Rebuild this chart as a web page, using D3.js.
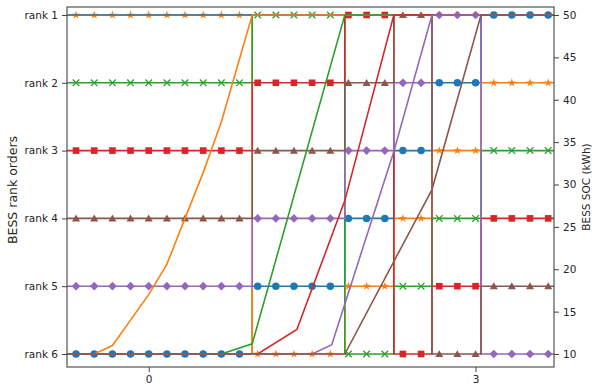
<!DOCTYPE html>
<html>
<head>
<meta charset="utf-8">
<script src="https://cdn.jsdelivr.net/npm/d3@7"></script>
<style>
body { margin: 0; background: #fff; }
text { font-family: "DejaVu Sans", sans-serif; fill: #262626; }
</style>
</head>
<body>
<svg id="viz"></svg>
<script>
// time steps where markers sit (every 1/6 unit)
var stepTimes = [-0.667, -0.5, -0.333, -0.167, 0, 0.167, 0.333, 0.5, 0.667, 0.833,
    1.0, 1.167, 1.333, 1.5, 1.667, 1.833, 2.0, 2.167, 2.333, 2.5,
    2.667, 2.833, 3.0, 3.167, 3.333, 3.5, 3.667];
// times when the rank order switches
var switchTimes = [0.95, 1.80, 2.25, 2.60, 3.05];
var xStart = -0.75, xEnd = 3.72;

var names = ['BESS 1', 'BESS 2', 'BESS 3', 'BESS 4', 'BESS 5', 'BESS 6'];
var colors = ['#1f77b4', '#ff7f0e', '#2ca02c', '#d62728', '#9467bd', '#8c564b'];
var markers = ['circle', 'star', 'x', 'square', 'diamond', 'triangle'];

// rank of each BESS at each step time
var rankBlue   = [6,6,6,6,6,6,6,6,6,6, 5,5,5,5,5, 4,4,4, 3,3, 2,2,2, 1,1,1,1];
var rankOrange = [1,1,1,1,1,1,1,1,1,1, 6,6,6,6,6, 5,5,5, 4,4, 3,3,3, 2,2,2,2];
var rankGreen  = [2,2,2,2,2,2,2,2,2,2, 1,1,1,1,1, 6,6,6, 5,5, 4,4,4, 3,3,3,3];
var rankRed    = [3,3,3,3,3,3,3,3,3,3, 2,2,2,2,2, 1,1,1, 6,6, 5,5,5, 4,4,4,4];
var rankPurple = [5,5,5,5,5,5,5,5,5,5, 4,4,4,4,4, 3,3,3, 2,2, 1,1,1, 6,6,6,6];
var rankBrown  = [4,4,4,4,4,4,4,4,4,4, 3,3,3,3,3, 2,2,2, 1,1, 6,6,6, 5,5,5,5];
var ranks = [rankBlue, rankOrange, rankGreen, rankRed, rankPurple, rankBrown];

// state of charge [time, kWh]
var socBlue   = [[-0.75,50],[3.72,50]];
var socOrange = [[-0.75,10],[-0.5,10],[-0.333,11],[-0.167,14],[0,17],[0.167,20.6],[0.333,26],[0.5,31.4],[0.667,37.4],[0.95,50],[3.72,50]];
var socGreen  = [[-0.75,10],[0.667,10],[0.95,11.2],[1.80,50],[3.72,50]];
var socRed    = [[-0.75,10],[1.0,10],[1.36,12.9],[1.80,28.1],[2.25,50],[3.72,50]];
var socPurple = [[-0.75,10],[1.5,10],[1.68,11.1],[2.25,33.9],[2.60,50],[3.72,50]];
var socBrown  = [[-0.75,10],[1.80,10],[2.60,29.4],[3.05,50],[3.72,50]];
var socs = [socBlue, socOrange, socGreen, socRed, socPurple, socBrown];

var rankTicks = [1, 2, 3, 4, 5, 6];
var socTicks = [10, 15, 20, 25, 30, 35, 40, 45, 50];
var xTicks = [0, 3];

var width = 592, height = 387;
var mLeft = 67, mRight = 554, mTop = 7, mBottom = 367;

var svg = d3.select('#viz').attr('width', width).attr('height', height);

var x = d3.scaleLinear().domain([xStart, xEnd]).range([mLeft, mRight]);
var yRank = d3.scaleLinear().domain([1, 6]).range([15, 354]);
var ySoc = d3.scaleLinear().domain([50, 10]).range([15, 354]);

svg.append('clipPath').attr('id', 'plotclip')
    .append('rect').attr('x', mLeft).attr('y', mTop)
    .attr('width', mRight - mLeft).attr('height', mBottom - mTop);

var plot = svg.append('g').attr('clip-path', 'url(#plotclip)');

function rankPath(r) {
    var pts = [[xStart, r[0]]];
    for (var k = 0; k < r.length - 1; k++) {
        pts.push([stepTimes[k], r[k]]);
        if (r[k] != r[k + 1]) {
            var t = switchTimes.find(function(s) { return s > stepTimes[k] && s < stepTimes[k + 1]; });
            pts.push([t, r[k]]);
            pts.push([t, r[k + 1]]);
        }
    }
    pts.push([stepTimes[r.length - 1], r[r.length - 1]]);
    pts.push([xEnd, r[r.length - 1]]);
    return pts;
}

var symbols = {
    circle: d3.symbol().type(d3.symbolCircle).size(44),
    star: d3.symbol().type(d3.symbolStar).size(22),
    x: d3.symbol().type(d3.symbolX).size(30),
    square: d3.symbol().type(d3.symbolSquare).size(44),
    diamond: d3.symbol().type(d3.symbolSquare).size(38),
    triangle: d3.symbol().type(d3.symbolTriangle).size(28)
};

var line = d3.line().x(function(d) { return x(d[0]); });

// rank lines with markers (left axis)
ranks.forEach(function(r, i) {
    var g = plot.append('g');
    g.append('path')
        .datum(rankPath(r))
        .attr('d', line.y(function(d) { return yRank(d[1]); }))
        .attr('fill', 'none')
        .attr('stroke', colors[i])
        .attr('stroke-width', 1.6);
    g.selectAll('path.mk')
        .data(r)
        .enter()
        .append('path')
        .attr('class', 'mk')
        .attr('d', symbols[markers[i]])
        .attr('transform', function(d, k) {
            var t = 'translate(' + x(stepTimes[k]) + ',' + yRank(d) + ')';
            if (markers[i] == 'diamond') t += ' rotate(45)';
            if (markers[i] == 'triangle') t += ' translate(0,0.8)';
            return t;
        })
        .attr('fill', markers[i] == 'x' ? 'none' : colors[i])
        .attr('stroke', markers[i] == 'x' ? colors[i] : 'none')
        .attr('stroke-width', 1.3);
});

// SOC lines (right axis)
socs.forEach(function(s, i) {
    plot.append('path')
        .datum(s)
        .attr('d', line.y(function(d) { return ySoc(d[1]); }))
        .attr('fill', 'none')
        .attr('stroke', colors[i])
        .attr('stroke-width', 1.6);
});

// frame
svg.append('rect')
    .attr('x', mLeft).attr('y', mTop)
    .attr('width', mRight - mLeft).attr('height', mBottom - mTop)
    .attr('fill', 'none').attr('stroke', '#444').attr('stroke-width', 1.1);

var axL = svg.append('g').attr('transform', 'translate(' + mLeft + ',0)')
    .call(d3.axisLeft(yRank).tickValues(rankTicks).tickSize(5).tickPadding(4)
        .tickFormat(function(d) { return 'rank ' + d; }));
var axR = svg.append('g').attr('transform', 'translate(' + mRight + ',0)')
    .call(d3.axisRight(ySoc).tickValues(socTicks).tickSize(5).tickPadding(4));
var axB = svg.append('g').attr('transform', 'translate(0,' + mBottom + ')')
    .call(d3.axisBottom(x).tickValues(xTicks).tickSize(5).tickPadding(4).tickFormat(d3.format('d')));

[axL, axR, axB].forEach(function(a) {
    a.select('.domain').remove();
    a.selectAll('line').attr('stroke', '#444');
    a.selectAll('text').attr('font-size', '10.5px').attr('fill', '#262626')
        .style('font-family', '"DejaVu Sans", sans-serif');
});

svg.append('text')
    .attr('transform', 'translate(17,190) rotate(-90)')
    .attr('text-anchor', 'middle')
    .attr('font-size', '12.5px')
    .text('BESS rank orders');

svg.append('text')
    .attr('transform', 'translate(590,187) rotate(-90)')
    .attr('text-anchor', 'middle')
    .attr('font-size', '10.5px')
    .text('BESS SOC (kWh)');
</script>
</body>
</html>
